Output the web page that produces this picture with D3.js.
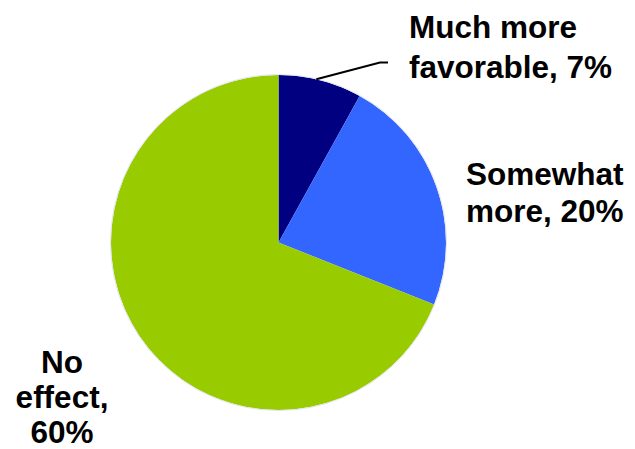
<!DOCTYPE html>
<html>
<head>
<meta charset="utf-8">
<script src="https://cdn.jsdelivr.net/npm/d3@7/dist/d3.min.js"></script>
<style>
  html, body { margin: 0; padding: 0; background: #ffffff; }
  svg { display: block; }
  text { font-family: "Liberation Sans", Arial, sans-serif; font-weight: bold; fill: #000; }
</style>
</head>
<body>
<svg id="chart" width="635" height="449"></svg>
<script>
const categories = ["Much more favorable", "Somewhat more", "No effect"];
const values = [7, 20, 60];
const colors = ["#000080", "#3366FF", "#99CC00"];
const labelLines = [
  ["Much more", "favorable, 7%"],
  ["Somewhat", "more, 20%"],
  ["No", "effect,", "60%"]
];

const svg = d3.select("#chart");
const cx = 278.5, cy = 242.5, r = 167.5;
const g = svg.append("g").attr("transform", `translate(${cx},${cy})`);

const pie = d3.pie().sort(null).value(d => d)(values);
const arc = d3.arc().innerRadius(0).outerRadius(r);

g.selectAll("path.slice").data(pie).enter().append("path")
  .attr("class", "slice")
  .attr("d", arc)
  .attr("fill", (d, i) => colors[i]);

g.append("circle").attr("r", r + 0.5).attr("fill", "none")
  .attr("stroke", "#e4e4f2").attr("stroke-width", 1);

// leader line for first slice
const a0 = pie[0].startAngle + (pie[0].endAngle - pie[0].startAngle) * 0.45;
const p0 = [Math.sin(a0) * r, -Math.cos(a0) * r];
g.append("polyline")
  .attr("points", [p0, [380 - cx, 62.5 - cy], [388 - cx, 62.5 - cy]].map(p => p.join(",")).join(" "))
  .attr("fill", "none").attr("stroke", "#000").attr("stroke-width", 2);

const labelPos = [
  { x: 409, y: 38, anchor: "start", dy: 40 },
  { x: 466, y: 185, anchor: "start", dy: 37 },
  { x: 62, y: 373, anchor: "middle", dy: 35 }
];

labelLines.forEach((lines, i) => {
  const p = labelPos[i];
  const t = svg.append("text").attr("text-anchor", p.anchor).style("font-size", "31.5px");
  lines.forEach((ln, j) => {
    t.append("tspan").attr("x", p.x).attr("y", p.y + j * p.dy).text(ln);
  });
});
</script>
</body>
</html>
